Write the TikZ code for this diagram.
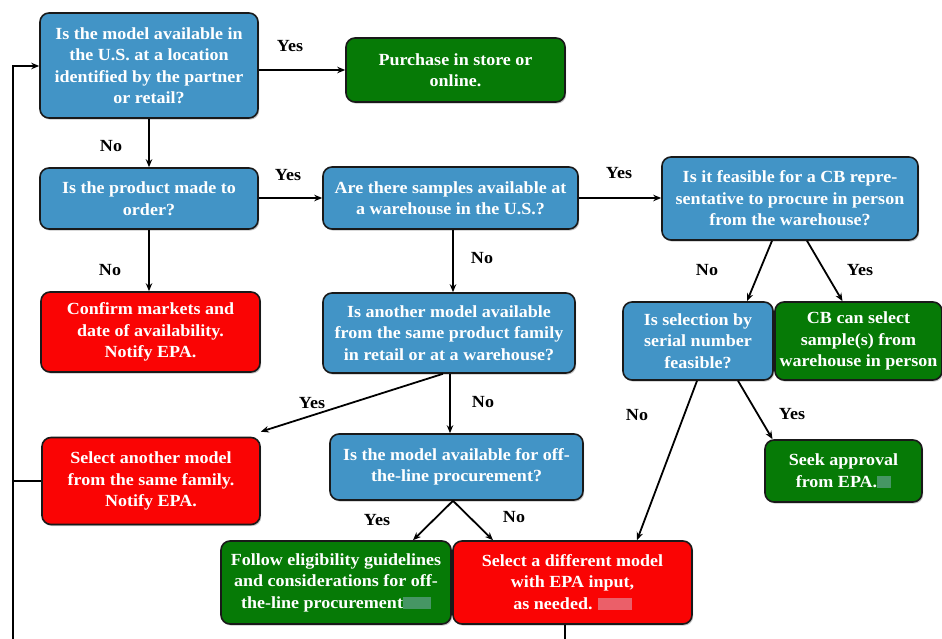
\documentclass[tikz,border=0pt]{standalone}
\usepackage{fontspec}
\setmainfont{Liberation Serif}
\newfontfamily\boxfont[FakeStretch=1.06]{Liberation Serif}
\usetikzlibrary{arrows.meta,shadows}
\definecolor{qblue}{RGB}{66,148,198}
\definecolor{okgreen}{RGB}{6,122,6}
\definecolor{stopred}{RGB}{250,4,4}
\definecolor{gsmudge}{RGB}{70,150,100}
\definecolor{rsmudge}{RGB}{235,95,105}
\newcommand{\smudge}[2]{\textcolor{#1}{\rule[-1pt]{#2}{12pt}}}
\tikzset{
  box/.style={draw=black!90, line width=1.6pt, rounded corners=9pt, inner sep=0pt,
    align=center, text=white, font=\boxfont\fontsize{17}{21.5}\selectfont\bfseries,
    drop shadow={shadow xshift=1.2pt, shadow yshift=-1.6pt, opacity=0.45}},
  qbox/.style={box, fill=qblue},
  gbox/.style={box, fill=okgreen},
  rbox/.style={box, fill=stopred},
  arr/.style={line width=1.8pt, -{Stealth[length=8pt,width=6.5pt]}},
  ln/.style={line width=1.8pt},
  lbl/.style={font=\boxfont\fontsize{17}{20}\selectfont\bfseries, text=black, inner sep=0pt}
}
\begin{document}
\begin{tikzpicture}[x=1pt,y=-1pt]
\useasboundingbox (0,0) rectangle (942,639);
\fill[white] (0,0) rectangle (942,639);
% nodes
\node[qbox, minimum width=218pt, minimum height=105pt] (q1) at (149,65.5)
  {Is the model available in\\the U.S. at a location\\identified by the partner\\or retail?};
\node[gbox, minimum width=219pt, minimum height=64pt] (buy) at (455.5,70)
  {Purchase in store or\\online.};
\node[qbox, minimum width=218pt, minimum height=61pt] (q2) at (149,198.5)
  {Is the product made to\\order?};
\node[qbox, minimum width=255pt, minimum height=62pt] (q3) at (450.5,198)
  {Are there samples available at\\a warehouse in the U.S.?};
\node[qbox, minimum width=256pt, minimum height=83pt] (q4) at (790,198.5)
  {Is it feasible for a CB repre-\\sentative to procure in person\\from the warehouse?};
\node[rbox, minimum width=219pt, minimum height=80pt] (conf) at (150.5,332)
  {Confirm markets and\\date of availability.\\Notify EPA.};
\node[qbox, minimum width=252pt, minimum height=80pt] (q5) at (449,333)
  {Is another model available\\from the same product family\\in retail or at a warehouse?};
\node[qbox, minimum width=150pt, minimum height=78pt] (q6) at (698,341)
  {Is selection by\\serial number\\feasible?};
\node[gbox, minimum width=167pt, minimum height=78pt] (cbs) at (858.5,341)
  {CB can select\\sample(s) from\\warehouse in person};
\node[rbox, minimum width=218pt, minimum height=87pt] (fam) at (151,481)
  {Select another model\\from the same family.\\Notify EPA.};
\node[qbox, minimum width=253pt, minimum height=66pt] (q7) at (456.5,467)
  {Is the model available for off-\\the-line procurement?};
\node[gbox, minimum width=157pt, minimum height=62pt] (seek) at (843.5,471)
  {Seek approval\\from EPA.\smudge{gsmudge}{14pt}};
\node[gbox, minimum width=230pt, minimum height=83pt] (fol) at (336,582.5)
  {Follow eligibility guidelines\\and considerations for off-\\the-line procurement\smudge{gsmudge}{28pt}};
\node[rbox, minimum width=239pt, minimum height=83pt] (dif) at (572.5,582.5)
  {Select a different model\\with EPA input,\\as needed.\hspace{5pt}\smudge{rsmudge}{34pt}};
% loop coordinates
\coordinate (lb) at (13,639);
\coordinate (lt) at (13,66);
\coordinate (db) at (565,639);
% connectors
\draw[arr] (lb) -- (lt) -- (q1.west |- lt);
\draw[ln] (fam.west) -- (lb |- fam.west);
\draw[ln] (dif.south -| db) -- (db);
\draw[arr] (q1.east |- buy) -- (buy.west);
\draw[arr] (q1.south) -- (q2.north);
\draw[arr] (q2.east |- q3) -- (q3.west);
\draw[arr] (q3.east) -- (q4.west |- q3.east);
\draw[arr] (q2.south) -- (q2.south |- conf.north);
\draw[arr] (q3.south -| 453,0) -- (q5.north -| 453,0);
\draw[arr] ([xshift=-18pt]q4.south) -- ([xshift=49pt]q6.north);
\draw[arr] ([xshift=17pt]q4.south) -- ([xshift=-16pt]cbs.north);
\draw[arr] ([xshift=-6pt]q5.south) -- ([yshift=5pt]fam.north east);
\draw[arr] (q5.south -| 450,0) -- (q7.north -| 450,0);
\draw[arr] ([xshift=40pt]q6.south) -- ([xshift=-71pt]seek.north);
\draw[arr] ([xshift=-1pt]q6.south) -- ([xshift=64.5pt]dif.north);
\draw[arr] ([xshift=-3.5pt]q7.south) -- ([xshift=77pt]fol.north);
\draw[arr] ([xshift=-3.5pt]q7.south) -- ([xshift=-79.5pt]dif.north);
% labels
\node[lbl] (l1) at (290,46) {Yes};
\node[lbl] (l2) at (111,146) {No};
\node[lbl] (l3) at (288,175) {Yes};
\node[lbl] (l4) at (619,173) {Yes};
\node[lbl] (l5) at (110,270) {No};
\node[lbl] (l6) at (482,258) {No};
\node[lbl] (l7) at (707,270) {No};
\node[lbl] (l8) at (860,270) {Yes};
\node[lbl] (l9) at (312,403) {Yes};
\node[lbl] (l10) at (483,402) {No};
\node[lbl] (l11) at (637,415) {No};
\node[lbl] (l12) at (792,414) {Yes};
\node[lbl] (l13) at (377,520) {Yes};
\node[lbl] (l14) at (514,517) {No};
\end{tikzpicture}
\end{document}
